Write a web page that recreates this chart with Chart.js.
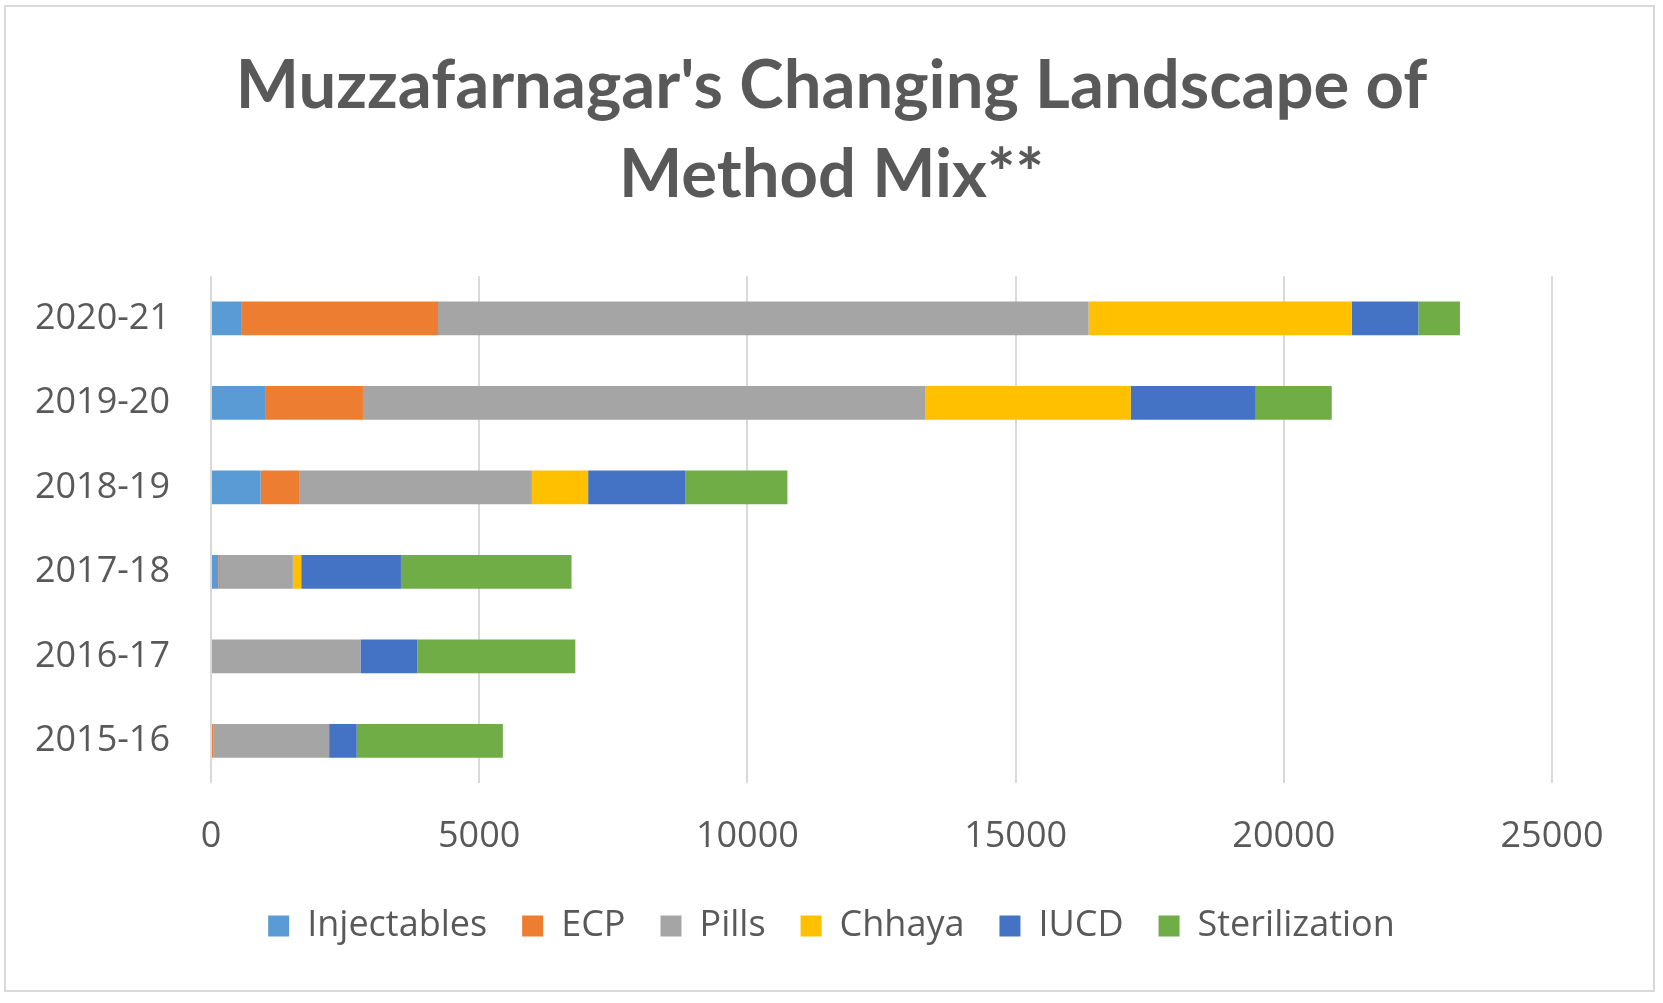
<!DOCTYPE html>
<html>
<head>
<meta charset="utf-8">
<title>Method Mix</title>
<script src="https://cdn.jsdelivr.net/npm/chart.js@4.4.1/dist/chart.umd.min.js"></script>
<style>
    html, body { margin: 0; padding: 0; background: #ffffff; }
    #wrap { position: relative; width: 1663px; height: 1003px; }
    #frame {
        position: absolute; left: 4px; top: 5px; width: 1651px; height: 987px;
        border: 2px solid #d9d9d9; box-sizing: border-box; pointer-events: none;
    }
</style>
</head>
<body>
<div id="wrap">
    <canvas id="chart" width="1663" height="1003"></canvas>
    <div id="frame"></div>
</div>
<script>
// ---- data ----
const years = ['2015-16', '2016-17', '2017-18', '2018-19', '2019-20', '2020-21'];
const injectables   = [0,    0,    136,  925,  1008,  575];
const ecp           = [50,   0,    30,   717,  1825,  3657];
const pills         = [2152, 2786, 1360, 4340, 10479, 12129];
const chhaya        = [0,    0,    156,  1049, 3833,  4906];
const iucd          = [515,  1058, 1859, 1808, 2332,  1242];
const sterilization = [2724, 2948, 3180, 1907, 1417,  775];
const xTicks = [0, 5000, 10000, 15000, 20000, 25000];
const titleLines = ["Muzzafarnagar's Changing Landscape of", 'Method Mix**'];

const TEXT = '#595959';
const GRID = '#d9d9d9';

function series(label, data, color) {
    return { label, data, backgroundColor: color, borderWidth: 0, barPercentage: 0.4, categoryPercentage: 1 };
}

new Chart(document.getElementById('chart'), {
    type: 'bar',
    data: {
        labels: years,
        datasets: [
            series('Injectables', injectables, '#5B9BD5'),
            series('ECP', ecp, '#ED7D31'),
            series('Pills', pills, '#A5A5A5'),
            series('Chhaya', chhaya, '#FFC000'),
            series('IUCD', iucd, '#4472C4'),
            series('Sterilization', sterilization, '#70AD47')
        ]
    },
    options: {
        indexAxis: 'y',
        responsive: false,
        animation: false,
        layout: { padding: { left: 0, right: 0, top: 0, bottom: 49 } },
        plugins: {
            title: {
                display: true,
                text: titleLines,
                color: TEXT,
                font: { family: 'Lato', weight: 'bold', size: 67, lineHeight: 1.33 },
                padding: { top: 42, bottom: 56 }
            },
            legend: {
                position: 'bottom',
                labels: {
                    color: TEXT,
                    font: { family: 'Open Sans', size: 36 },
                    boxWidth: 21,
                    boxHeight: 21,
                    padding: 35
                }
            },
            tooltip: { enabled: false }
        },
        scales: {
            x: {
                stacked: true,
                min: 0,
                max: 25000,
                afterBuildTicks: (scale) => { scale.ticks = xTicks.map(v => ({ value: v })); },
                afterFit: (scale) => { scale.height = 90; },
                ticks: {
                    color: TEXT,
                    font: { family: 'Open Sans', size: 36 },
                    padding: 32,
                    maxRotation: 0,
                    callback: (v) => String(v)
                },
                grid: { color: GRID, lineWidth: 2, drawTicks: false },
                border: { display: false }
            },
            y: {
                stacked: true,
                reverse: true,
                afterFit: (scale) => { scale.width = 211; },
                ticks: { color: TEXT, font: { family: 'Open Sans', size: 36 }, padding: 41 },
                grid: { display: false, drawTicks: false },
                border: { display: false }
            },
            // empty right-hand axis: only reserves the margin right of the plot
            spacer: {
                type: 'linear',
                position: 'right',
                afterFit: (scale) => { scale.width = 111; },
                ticks: { display: false },
                grid: { display: false, drawTicks: false },
                border: { display: false }
            }
        }
    }
});
</script>
</body>
</html>
